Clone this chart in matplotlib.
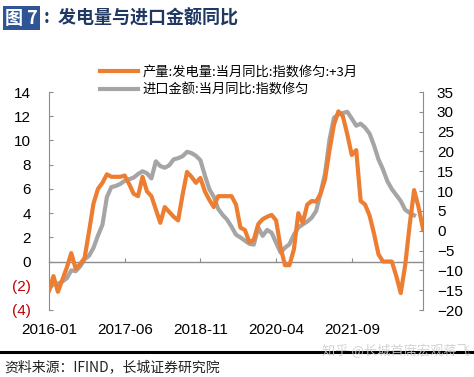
import numpy as np
import matplotlib
matplotlib.use("Agg")
import matplotlib.pyplot as plt
from matplotlib.lines import Line2D

plt.rcParams['font.family'] = ['Liberation Sans', 'Noto Sans CJK SC', 'DejaVu Sans']

# ---- data (month index 0 = 2016-01) ----
power_yoy = [-2.4, -1.2, -2.5, -1.5, -0.5, 0.7, -0.6, -0.2, 0.3, 2.5,
             4.8, 6.0, 6.5, 7.2, 7.0, 7.0, 7.0, 7.1, 6.4, 5.6,
             5.4, 7.0, 5.8, 5.4, 4.3, 3.2, 4.5, 4.1, 3.7, 3.4,
             5.5, 7.4, 7.0, 6.5, 6.9, 5.8, 5.1, 4.5, 5.4, 5.4,
             5.4, 5.4, 4.7, 2.8, 2.6, 1.6, 1.8, 3.1, 3.5, 3.7,
             3.85, 3.4, 1.2, -0.3, -0.3, 1.0, 4.0, 3.2, 4.7, 5.0,
             4.95, 5.6, 6.8, 9.2, 11.3, 12.4, 12.0, 10.5, 8.8, 9.2,
             5.0, 4.7, 3.8, 2.3, 0.6, 0.0, 0.0, 0.0, -1.2, -2.6,
             -0.3, 3.0, 5.9, 4.5, 2.7]
import_yoy = [-15.0, -13.0, -13.4, -12.8, -12.0, -10.0, -10.2, -9.0, -7.2, -6.3,
              -4.3, -1.2, 1.5, 8.5, 11.0, 11.3, 11.8, 12.6, 13.0, 13.4,
              14.3, 15.0, 14.5, 13.2, 17.5, 16.3, 15.9, 16.5, 18.0, 18.3,
              18.8, 19.9, 19.6, 18.9, 17.8, 14.0, 10.5, 8.6, 5.5, 4.0,
              2.8, 1.0, -1.0, -1.7, -2.5, -3.3, -3.5, 0.8, -1.3, 0.2,
              -0.5, -3.0, -5.5, -4.3, -3.4, -1.0, 0.8, 1.6, 2.3, 3.3,
              5.0, 9.5, 14.5, 23.0, 28.5, 29.4, 29.7, 30.0, 28.3, 26.5,
              27.0, 26.0, 24.5, 21.5, 18.0, 15.5, 12.5, 10.5, 9.0, 7.5,
              5.3, 4.5, 3.9]
xtick_pos = [0, 17, 34, 51, 68]
xtick_labels = ['2016-01', '2017-06', '2018-11', '2020-04', '2021-09']
left_ticks = [-4, -2, 0, 2, 4, 6, 8, 10, 12, 14]
left_labels = ['(4)', '(2)', '0', '2', '4', '6', '8', '10', '12', '14']
right_ticks = [-20, -15, -10, -5, 0, 5, 10, 15, 20, 25, 30, 35]
label_power = '产量:发电量:当月同比:指数修匀:+3月'
label_import = '进口金额:当月同比:指数修匀'

ORANGE = '#ED7D31'
GRAY = '#A5A5A5'
AXC = '#8C8C8C'

fig = plt.figure(figsize=(4.74, 3.77), dpi=100)
ax = fig.add_axes([49/474, 1-310/377, (423-49)/474, (310-92)/377])
ax2 = ax.twinx()

x1 = np.arange(len(power_yoy))
x2 = np.arange(len(import_yoy))
ax2.plot(x2, import_yoy, color=GRAY, lw=3.0, solid_joinstyle='round', zorder=2)
ax.plot(x1, power_yoy, color=ORANGE, lw=3.0, solid_joinstyle='round', zorder=3)
ax.set_zorder(ax2.get_zorder() + 1)
ax.patch.set_visible(False)

ax.set_xlim(0, 84)
ax.set_ylim(-4, 14)
ax2.set_ylim(-20, 35)

for a in (ax, ax2):
    for s in ('top', 'bottom'):
        a.spines[s].set_visible(False)
ax.spines['right'].set_visible(False)
ax2.spines['left'].set_visible(False)
ax.spines['left'].set_color(AXC)
ax2.spines['right'].set_color(AXC)

ax.set_yticks(left_ticks)
ax.set_yticklabels(left_labels)
ax.tick_params(axis='y', direction='in', length=3, color=AXC, labelsize=11, pad=13)
for t in ax.get_yticklabels():
    if t.get_text().startswith('('):
        t.set_color('#C00000')
ax2.set_yticks(right_ticks)
ax2.tick_params(axis='y', direction='in', length=3, color=AXC, labelsize=11, pad=10)

ax.set_xticks(xtick_pos)
ax.set_xticklabels(xtick_labels)
ax.tick_params(axis='x', length=0, labelsize=11, pad=9)

# zero line with inward ticks
zero_pos = (0 - (-4)) / 18
sec = ax.secondary_xaxis(zero_pos)
sec.set_xticks(xtick_pos)
sec.tick_params(axis='x', direction='in', length=3, color=AXC, labelbottom=False, labeltop=False)
sec.spines['bottom'].set_color(AXC)
sec.spines['bottom'].set_linewidth(1.0)

# legend
handles = [Line2D([], [], color=ORANGE, lw=3), Line2D([], [], color=GRAY, lw=3)]
fig.legend(handles, [label_power, label_import], loc='upper left',
           bbox_to_anchor=(88/474, 1-54/377), frameon=False,
           handlelength=2.9, handletextpad=0.3, labelspacing=0.35,
           prop={'family': ['Noto Sans CJK SC'], 'size': 9.5})

# title
fig.text(5/474, 1-18/377, '图 7', color='white', fontsize=13, fontweight='bold',
         va='center', ha='left', family=['Noto Sans CJK SC'],
         bbox=dict(boxstyle='square,pad=0.12', fc='#2F5597', ec='none'))
fig.text(44/474, 1-18/377, ':  发电量与进口金额同比', color='#1F3864', fontsize=13,
         fontweight='bold', va='center', ha='left', family=['Noto Sans CJK SC'])

# bottom rule and source
fig.add_artist(Line2D([0.0, 0.995], [1-351.5/377, 1-351.5/377], color='black', lw=2.2))
fig.text(4/474, 1-367/377, '资料来源：IFIND，长城证券研究院', fontsize=10, style='italic',
         va='center', ha='left', color='#222222', family=['Noto Sans CJK SC'])
fig.text(470/474, 1-351/377, '知乎 @长城首席宏观蒋飞', fontsize=9.5, color='#d0d0d0',
         va='center', ha='right', family=['Noto Sans CJK SC'], alpha=0.9)

fig.savefig('out.png', dpi=100)
